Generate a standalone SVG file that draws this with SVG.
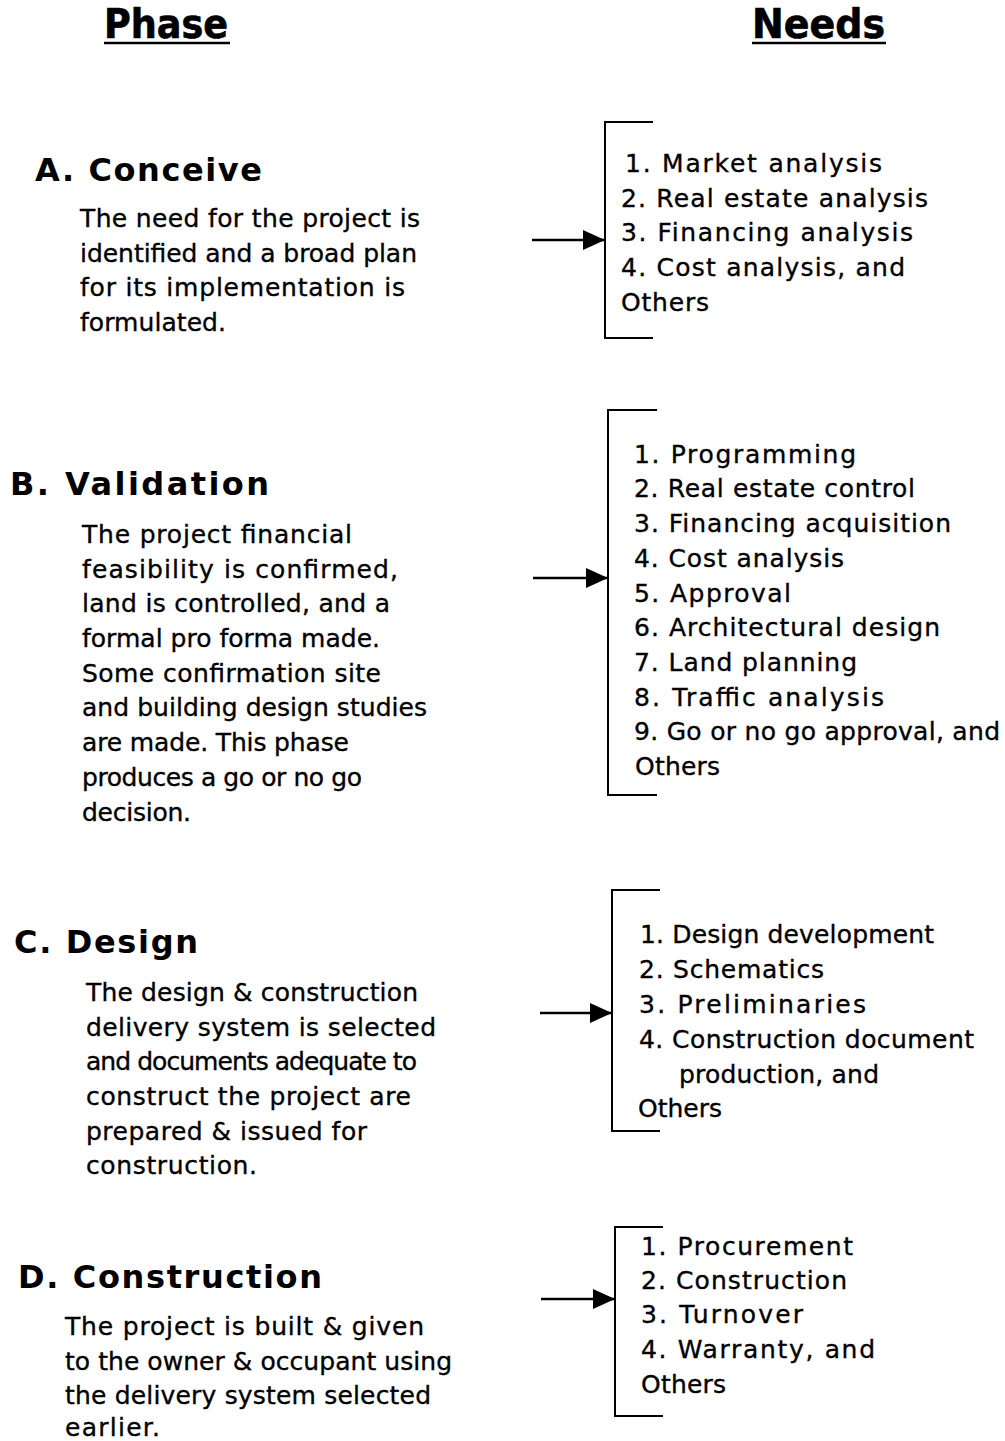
<svg xmlns="http://www.w3.org/2000/svg" width="1005" height="1441" viewBox="0 0 1005 1441">
<defs>
<style>
.hd{font-family:"DejaVu Sans Condensed","DejaVu Sans",sans-serif;font-weight:bold;font-size:40px;fill:#000;stroke:#000;stroke-width:0.6}
.ti{font-family:"DejaVu Sans",sans-serif;font-weight:bold;font-size:32px;fill:#000}
.tx{font-family:"DejaVu Sans",sans-serif;font-size:25px;fill:#000;stroke:#000;stroke-width:0.35}
.br{fill:none;stroke:#000;stroke-width:2}
.ar{fill:none;stroke:#000;stroke-width:2.5}
.ul{stroke:#000;stroke-width:2.5}
</style>
<marker id="ah" markerUnits="userSpaceOnUse" markerWidth="24" markerHeight="20" refX="22" refY="10" orient="auto">
<path d="M0,0 L22,10 L0,20 z" fill="#000"/>
</marker>
</defs>
<rect width="1005" height="1441" fill="#fff"/>

<g id="headers">
<text class="hd" x="104" y="38" textLength="124" lengthAdjust="spacingAndGlyphs">Phase</text>
<line class="ul" x1="104" y1="43" x2="230" y2="43"/>
<text class="hd" x="752" y="38" textLength="133" lengthAdjust="spacingAndGlyphs">Needs</text>
<line class="ul" x1="752" y1="43" x2="886" y2="43"/>
</g>

<g id="phase-a">
<text class="ti" x="35" y="181" textLength="227">A.  Conceive</text>
<text class="tx" x="80" y="227" textLength="340">The need for the project is</text>
<text class="tx" x="80" y="262" textLength="337">identified and a broad plan</text>
<text class="tx" x="80" y="296" textLength="325">for its implementation is</text>
<text class="tx" x="80" y="331" textLength="146">formulated.</text>
</g>
<g id="needs-a">
<path class="br" d="M653,122 H605 V338 H653"/>
<text class="tx" x="625" y="172" textLength="257">1.  Market analysis</text>
<text class="tx" x="621" y="207" textLength="307">2.  Real estate analysis</text>
<text class="tx" x="621" y="241" textLength="292">3.  Financing analysis</text>
<text class="tx" x="621" y="276" textLength="284">4.  Cost analysis, and</text>
<text class="tx" x="621" y="311" textLength="88">Others</text>
</g>

<g id="phase-b">
<text class="ti" x="10" y="495" textLength="259">B.  Validation</text>
<text class="tx" x="82" y="543" textLength="270">The project financial</text>
<text class="tx" x="82" y="578" textLength="316">feasibility is confirmed,</text>
<text class="tx" x="82" y="612" textLength="308">land is controlled, and a</text>
<text class="tx" x="82" y="647" textLength="298">formal pro forma made.</text>
<text class="tx" x="82" y="682" textLength="299">Some confirmation site</text>
<text class="tx" x="82" y="716" textLength="345">and building design studies</text>
<text class="tx" x="82" y="751" textLength="267">are made. This phase</text>
<text class="tx" x="82" y="786" textLength="280">produces a go or no go</text>
<text class="tx" x="82" y="821" textLength="109">decision.</text>
</g>
<g id="needs-b">
<path class="br" d="M657,410 H608 V795 H657"/>
<text class="tx" x="634" y="463" textLength="222">1.  Programming</text>
<text class="tx" x="634" y="497" textLength="281">2.  Real estate control</text>
<text class="tx" x="634" y="532" textLength="317">3.  Financing acquisition</text>
<text class="tx" x="634" y="567" textLength="210">4.  Cost analysis</text>
<text class="tx" x="634" y="602" textLength="157">5.  Approval</text>
<text class="tx" x="634" y="636" textLength="306">6.  Architectural design</text>
<text class="tx" x="634" y="671" textLength="223">7.  Land planning</text>
<text class="tx" x="634" y="706" textLength="250">8.  Traffic analysis</text>
<text class="tx" x="634" y="740" textLength="366">9.  Go or no go approval, and</text>
<text class="tx" x="635" y="775" textLength="85">Others</text>
</g>

<g id="phase-c">
<text class="ti" x="14" y="953" textLength="184">C.  Design</text>
<text class="tx" x="86" y="1001" textLength="332">The design &amp; construction</text>
<text class="tx" x="86" y="1036" textLength="350">delivery system is selected</text>
<text class="tx" x="86" y="1070" textLength="331">and documents adequate to</text>
<text class="tx" x="86" y="1105" textLength="325">construct the project are</text>
<text class="tx" x="86" y="1140" textLength="281">prepared &amp; issued for</text>
<text class="tx" x="86" y="1174" textLength="171">construction.</text>
</g>
<g id="needs-c">
<path class="br" d="M660,890 H612 V1131 H660"/>
<text class="tx" x="640" y="943" textLength="294">1.  Design development</text>
<text class="tx" x="639" y="978" textLength="185">2.  Schematics</text>
<text class="tx" x="639" y="1013" textLength="227">3.  Preliminaries</text>
<text class="tx" x="639" y="1048" textLength="335">4.  Construction document</text>
<text class="tx" x="679" y="1083" textLength="200">production, and</text>
<text class="tx" x="638" y="1117" textLength="84">Others</text>
</g>

<g id="phase-d">
<text class="ti" x="18" y="1288" textLength="304">D.  Construction</text>
<text class="tx" x="65" y="1335" textLength="359">The project is built &amp; given</text>
<text class="tx" x="65" y="1370" textLength="387">to the owner &amp; occupant using</text>
<text class="tx" x="65" y="1404" textLength="366">the delivery system selected</text>
<text class="tx" x="65" y="1436" textLength="95">earlier.</text>
</g>
<g id="needs-d">
<path class="br" d="M663,1227 H615 V1416 H663"/>
<text class="tx" x="641" y="1255" textLength="212">1.  Procurement</text>
<text class="tx" x="641" y="1289" textLength="206">2.  Construction</text>
<text class="tx" x="641" y="1323" textLength="162">3.  Turnover</text>
<text class="tx" x="641" y="1358" textLength="234">4.  Warranty, and</text>
<text class="tx" x="641" y="1393" textLength="85">Others</text>
</g>

<g id="connectors">
<line class="ar" x1="532" y1="240" x2="605" y2="240" marker-end="url(#ah)"/>
<line class="ar" x1="533" y1="578" x2="608" y2="578" marker-end="url(#ah)"/>
<line class="ar" x1="540" y1="1013" x2="612" y2="1013" marker-end="url(#ah)"/>
<line class="ar" x1="541" y1="1299" x2="615" y2="1299" marker-end="url(#ah)"/>
</g>
</svg>
